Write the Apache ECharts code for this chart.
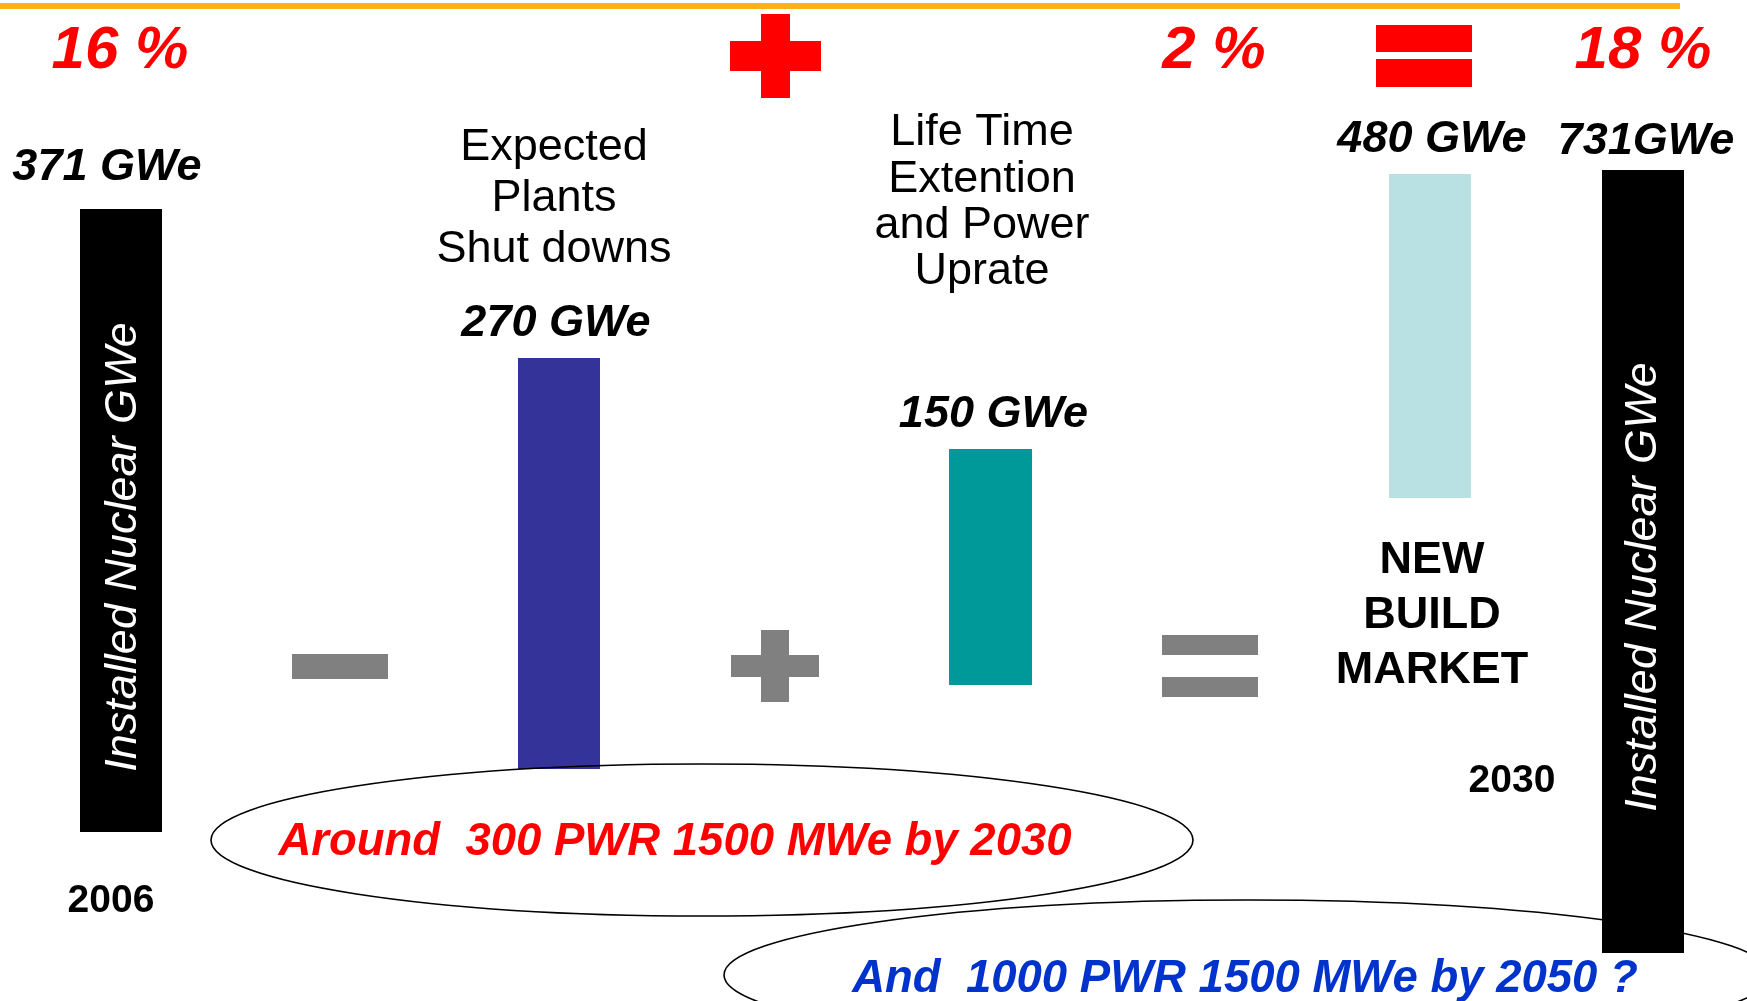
<!DOCTYPE html>
<html>
<head>
<meta charset="utf-8">
<title>Installed Nuclear GWe 2006 – 2030</title>
<script src="https://cdn.jsdelivr.net/npm/echarts@6/dist/echarts.min.js"></script>
<style>
  html, body { margin: 0; padding: 0; background: #ffffff; }
  #chart { width: 1747px; height: 1001px; }
</style>
</head>
<body>
<div id="chart"></div>
<script>
// ---- data ----
const categories = ['2006', 'Expected Plants Shut downs', 'Life Time Extention and Power Uprate', 'NEW BUILD MARKET', '2030'];
const capacityGWe = [371, 270, 150, 480, 731];
const valueUnits = [' GWe', ' GWe', ' GWe', ' GWe', 'GWe'];
const shareLabels = ['16 %', '2 %', '18 %'];
const yearLabels = ['2006', '2030'];
const shutdownLines = ['Expected', 'Plants', 'Shut downs'];
const extensionLines = ['Life Time', 'Extention', 'and Power', 'Uprate'];
const newBuildLines = ['NEW', 'BUILD', 'MARKET'];
const axisTitle = 'Installed Nuclear GWe';
const note2030 = 'Around  300 PWR 1500 MWe by 2030';
const note2050 = 'And  1000 PWR 1500 MWe by 2050 ?';

// ---- layout & style ----
const FONT = '"Liberation Sans", Arial, sans-serif';
const barColors = ['#000000', '#333399', '#009999', '#B9E0E3', '#000000'];
const barBoxes = [
  { left: 80,   top: 209, width: 82, height: 623 },
  { left: 518,  top: 358, width: 82, height: 411 },
  { left: 949,  top: 449, width: 83, height: 236 },
  { left: 1389, top: 174, width: 82, height: 324 },
  { left: 1602, top: 170, width: 82, height: 783 }
];
const labelDistance = [19, 12, 12, 12, 6];
const labelOffset = [[-14, 0], [-3, 0], [3, 0], [2, 0], [3, 0]];

const grids = [], xAxes = [], yAxes = [], series = [];
barBoxes.forEach((b, i) => {
  grids.push({ left: b.left, top: b.top, width: b.width, height: b.height, outerBoundsMode: 'none', containLabel: false });
  xAxes.push({ type: 'category', gridIndex: i, data: [categories[i]], show: false });
  yAxes.push({ type: 'value', gridIndex: i, min: 0, max: capacityGWe[i], show: false });
  series.push({
    type: 'bar',
    name: categories[i],
    xAxisIndex: i,
    yAxisIndex: i,
    data: [capacityGWe[i]],
    barWidth: '100%',
    silent: true,
    itemStyle: { color: barColors[i] },
    label: {
      show: true,
      position: 'top',
      distance: labelDistance[i],
      offset: labelOffset[i],
      formatter: p => p.value + valueUnits[i],
      color: '#000',
      fontFamily: FONT,
      fontSize: 45,
      fontWeight: 'bold',
      fontStyle: 'italic'
    }
  });
});

function text(str, x, y, font, fill, extra) {
  return Object.assign({
    type: 'text', x: x, y: y, z: 20,
    style: {
      text: str, x: 0, y: 0, font: font, fill: fill,
      align: 'center', verticalAlign: 'middle',
      textAlign: 'center', textVerticalAlign: 'middle'
    }
  }, extra || {});
}
function rect(x, y, w, h, fill) {
  return { type: 'rect', z: 20, shape: { x: x, y: y, width: w, height: h }, style: { fill: fill } };
}

const bigRed = 'italic bold 60px ' + FONT;
const plain = '45px ' + FONT;
const boldBlock = 'bold 45px ' + FONT;
const yearFont = 'bold 39px ' + FONT;
const noteFont = 'italic bold 45.5px ' + FONT;

const graphics = [
  // header rule
  rect(0, 3, 1680, 6, '#FFB10F'),
  // percentages
  text(shareLabels[0], 120, 51, bigRed, '#FF0000'),
  text(shareLabels[1], 1214, 51, bigRed, '#FF0000'),
  text(shareLabels[2], 1643, 51, bigRed, '#FF0000'),
  // red plus
  rect(761, 14, 29, 84, '#FF0000'),
  rect(730, 41, 91, 30, '#FF0000'),
  // red equals
  rect(1376, 25, 96, 27, '#FF0000'),
  rect(1376, 59, 96, 28, '#FF0000'),
  // grey operators
  rect(292, 654, 96, 25, '#808080'),
  rect(761, 630, 28, 72, '#808080'),
  rect(731, 655, 88, 22, '#808080'),
  rect(1162, 635, 96, 20, '#808080'),
  rect(1162, 677, 96, 20, '#808080'),
  // vertical titles inside the black bars
  text(axisTitle, 123, 547, 'italic 45px ' + FONT, '#ffffff', { rotation: Math.PI / 2 }),
  text(axisTitle, 1643, 587, 'italic 45px ' + FONT, '#ffffff', { rotation: Math.PI / 2 }),
  // years
  text(yearLabels[0], 111, 901, yearFont, '#000'),
  text(yearLabels[1], 1512, 781, yearFont, '#000'),
  // ellipses
  { type: 'ellipse', z: 25, shape: { cx: 702, cy: 840, rx: 491, ry: 76 }, style: { fill: 'none', stroke: '#000', lineWidth: 1.6 } },
  { type: 'ellipse', z: 0, shape: { cx: 1248, cy: 975, rx: 524, ry: 75 }, style: { fill: 'none', stroke: '#000', lineWidth: 1.6 } },
  text(note2030, 675, 842, noteFont, '#FF0000'),
  text(note2050, 1245, 979, noteFont, '#0033CC')
];
shutdownLines.forEach((s, k) => graphics.push(text(s, 554, 148 + k * 51, plain, '#000')));
extensionLines.forEach((s, k) => graphics.push(text(s, 982, 133 + k * 46.3, plain, '#000')));
newBuildLines.forEach((s, k) => graphics.push(text(s, 1432, 561 + k * 55, boldBlock, '#000')));

const chart = echarts.init(document.getElementById('chart'), null, { renderer: 'canvas' });
chart.setOption({
  backgroundColor: '#ffffff',
  animation: false,
  grid: grids,
  xAxis: xAxes,
  yAxis: yAxes,
  series: series,
  graphic: { elements: graphics }
});
</script>
</body>
</html>
